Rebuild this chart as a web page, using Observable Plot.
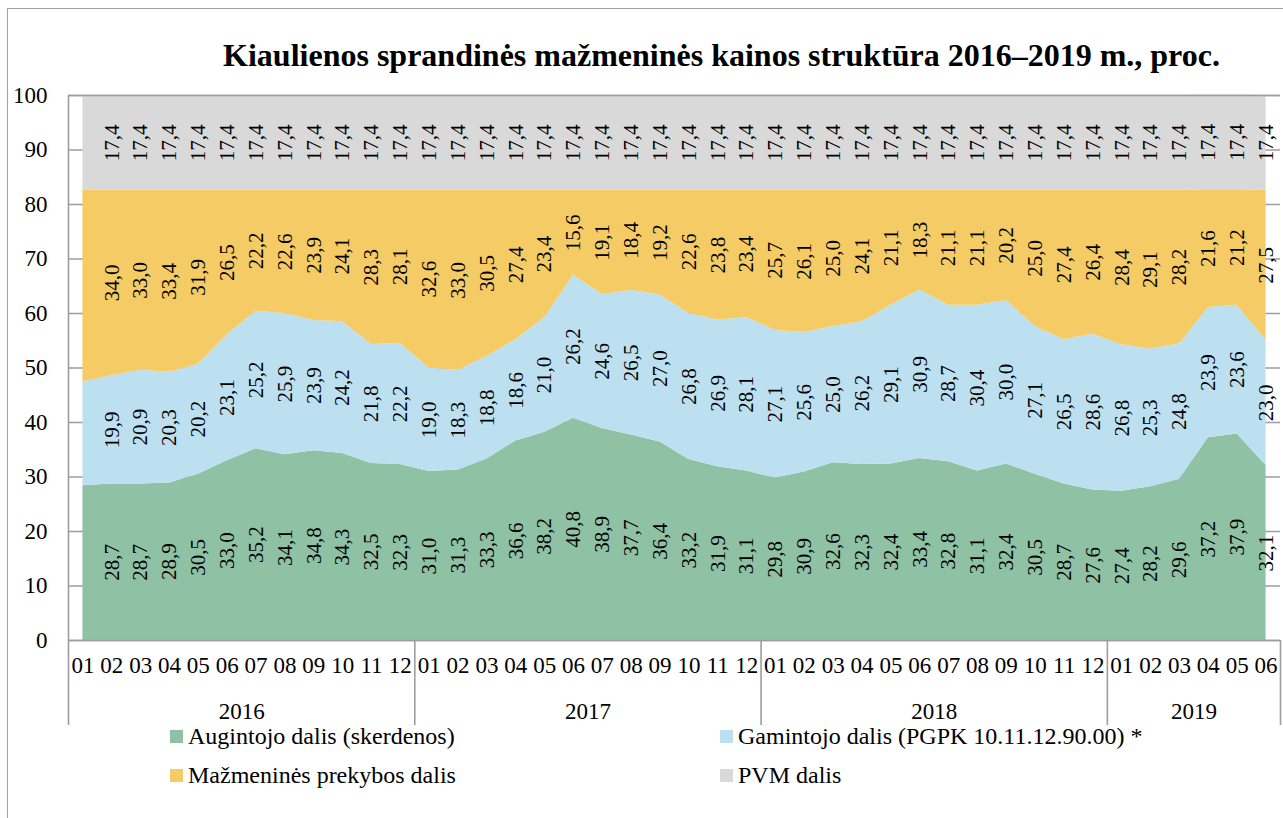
<!DOCTYPE html>
<html>
<head>
<meta charset="utf-8">
<script src="https://cdn.jsdelivr.net/npm/d3@7"></script>
<script src="https://cdn.jsdelivr.net/npm/@observablehq/plot@0.6"></script>
<style>
  html, body { margin: 0; padding: 0; background: #fff; }
  #wrap { position: relative; width: 1283px; height: 818px; overflow: hidden; font-family: "Liberation Serif", "Times New Roman", serif; }
  #border { position: absolute; left: 7px; top: 8px; width: 1400px; height: 900px; border-left: 1.5px solid #a0a0a0; border-top: 1.5px solid #a0a0a0; }
  #title { position: absolute; left: 0; width: 1443px; top: 37px; text-align: center; font-family: "Liberation Serif", "Times New Roman", serif; font-weight: bold; font-size: 32px; line-height: 36px; color: #000; white-space: nowrap; }
  #chart { position: absolute; left: 0; top: 0; }
  .leg { position: absolute; font-family: "Liberation Serif", "Times New Roman", serif; font-size: 24px; line-height: 26px; color: #000; white-space: nowrap; }
  .sw { display: inline-block; width: 13px; height: 13px; margin-right: 5px; vertical-align: 1px; }
</style>
</head>
<body>
<div id="wrap">
  <div id="border"></div>
  <div id="title">Kiaulienos sprandinės mažmeninės kainos struktūra 2016–2019 m., proc.</div>
  <div id="chart"></div>
  <div id="legend"></div>
</div>
<script>
const seriesNames = [
  "Augintojo dalis (skerdenos)",
  "Gamintojo dalis (PGPK 10.11.12.90.00) *",
  "Mažmeninės prekybos dalis",
  "PVM dalis"
];
const colors = ["#8fc1a5", "#bde0f0", "#f5cb66", "#d9d9d9"];

const monthLabels = [
  "01","02","03","04","05","06","07","08","09","10","11","12",
  "01","02","03","04","05","06","07","08","09","10","11","12",
  "01","02","03","04","05","06","07","08","09","10","11","12",
  "01","02","03","04","05","06"
];
const years = ["2016", "2017", "2018", "2019"];
const monthsPerYear = [12, 12, 12, 6];

// first point (2016-01) has no data label in the original; its values are read from the area shape
const augintojo = [28.4,
  28.7, 28.7, 28.9, 30.5, 33.0, 35.2, 34.1, 34.8, 34.3, 32.5, 32.3,
  31.0, 31.3, 33.3, 36.6, 38.2, 40.8, 38.9, 37.7, 36.4, 33.2, 31.9, 31.1,
  29.8, 30.9, 32.6, 32.3, 32.4, 33.4, 32.8, 31.1, 32.4, 30.5, 28.7, 27.6,
  27.4, 28.2, 29.6, 37.2, 37.9, 32.1];
const gamintojo = [19.1,
  19.9, 20.9, 20.3, 20.2, 23.1, 25.2, 25.9, 23.9, 24.2, 21.8, 22.2,
  19.0, 18.3, 18.8, 18.6, 21.0, 26.2, 24.6, 26.5, 27.0, 26.8, 26.9, 28.1,
  27.1, 25.6, 25.0, 26.2, 29.1, 30.9, 28.7, 30.4, 30.0, 27.1, 26.5, 28.6,
  26.8, 25.3, 24.8, 23.9, 23.6, 23.0];
const mazmenines = [35.1,
  34.0, 33.0, 33.4, 31.9, 26.5, 22.2, 22.6, 23.9, 24.1, 28.3, 28.1,
  32.6, 33.0, 30.5, 27.4, 23.4, 15.6, 19.1, 18.4, 19.2, 22.6, 23.8, 23.4,
  25.7, 26.1, 25.0, 24.1, 21.1, 18.3, 21.1, 21.1, 20.2, 25.0, 27.4, 26.4,
  28.4, 29.1, 28.2, 21.6, 21.2, 27.5];
const pvm = [17.4,
  17.4, 17.4, 17.4, 17.4, 17.4, 17.4, 17.4, 17.4, 17.4, 17.4, 17.4,
  17.4, 17.4, 17.4, 17.4, 17.4, 17.4, 17.4, 17.4, 17.4, 17.4, 17.4, 17.4,
  17.4, 17.4, 17.4, 17.4, 17.4, 17.4, 17.4, 17.4, 17.4, 17.4, 17.4, 17.4,
  17.4, 17.4, 17.4, 17.4, 17.4, 17.4];
const labelled = monthLabels.map((m, i) => i > 0);
const yTicks = [0, 10, 20, 30, 40, 50, 60, 70, 80, 90, 100];

const seriesValues = [augintojo, gamintojo, mazmenines, pvm];
const long = [];
seriesValues.forEach((vals, s) => {
  vals.forEach((v, i) => long.push({i, series: seriesNames[s], value: v, labelled: labelled[i]}));
});

// year group boundaries and centers (in category index units)
const bounds = [-0.5];
const centers = [];
let acc = 0;
monthsPerYear.forEach(n => { centers.push(acc + (n - 1) / 2); acc += n; bounds.push(acc - 0.5); });

const fmt = v => v.toFixed(1).replace(".", ",");
const gridColor = "#9d9d9d";
const idx = monthLabels.map((m, i) => i);
const serif = "'Liberation Serif', 'Times New Roman', serif";

const chart = Plot.plot({
  width: 1283,
  height: 740,
  marginLeft: 68,
  marginRight: 3,
  marginTop: 95,
  marginBottom: 100,
  style: {fontFamily: serif, fontSize: "23px", background: "transparent", color: "#000", overflow: "visible"},
  x: {domain: [-0.5, monthLabels.length - 0.5], axis: null, label: null},
  y: {domain: [0, 100], axis: null, label: null},
  color: {domain: seriesNames, range: colors},
  marks: [
    Plot.gridY(yTicks, {stroke: gridColor, strokeOpacity: 1, strokeWidth: 1.4}),
    Plot.areaY(long, {x: "i", y: "value", fill: "series", z: "series", order: seriesNames}),
    Plot.ruleY([0, 100], {stroke: gridColor, strokeWidth: 1.6}),
    Plot.ruleX([-0.5], {stroke: gridColor, strokeWidth: 1.6}),
    Plot.text(long.filter(d => d.labelled), Plot.stackY({
      x: "i", y: "value", z: "series", order: seriesNames,
      text: d => fmt(d.value), rotate: -90, fontSize: 21, fontFamily: serif, fill: "#000"
    })),
    Plot.axisY({ticks: yTicks, label: null, tickSize: 0, tickPadding: 21, fontSize: 23, fill: "#000"}),
    Plot.axisX({ticks: idx, label: null, tickFormat: i => monthLabels[i], tickSize: 0, tickPadding: 16, fontSize: 23, fill: "#000"}),
    Plot.axisX({ticks: centers, label: null, tickFormat: d => years[centers.indexOf(d)], tickSize: 0, tickPadding: 62, fontSize: 23, fill: "#000"}),
    Plot.axisX({ticks: bounds, label: null, tickFormat: () => "", tickSize: 85, stroke: gridColor, strokeWidth: 1.6})
  ]
});
document.getElementById("chart").appendChild(chart);

// legend
const legendPos = [
  {left: 170, top: 723},
  {left: 720, top: 723},
  {left: 170, top: 762},
  {left: 720, top: 762}
];
const legend = document.getElementById("legend");
seriesNames.forEach((name, k) => {
  const el = document.createElement("div");
  el.className = "leg";
  el.style.left = legendPos[k].left + "px";
  el.style.top = legendPos[k].top + "px";
  el.innerHTML = `<span class="sw" style="background:${colors[k]}"></span>${name}`;
  legend.appendChild(el);
});
</script>
</body>
</html>
